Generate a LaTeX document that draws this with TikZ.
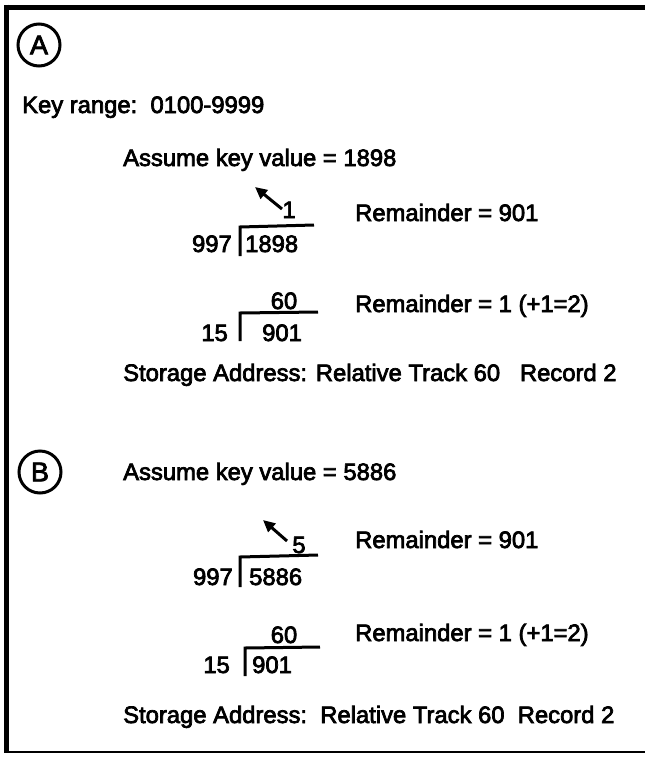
\documentclass[tikz,border=0pt]{standalone}
\usepackage{fontspec}
\setmainfont{Liberation Sans}
\newfontfamily\medfont{Liberation Sans}[FakeBold=3]
\usetikzlibrary{arrows.meta}
\begin{document}
\begin{tikzpicture}[x=1pt,y=-1pt,
  txt/.style={inner sep=0pt,font=\medfont\fontsize{23.8}{28}\selectfont},
  lbl/.style={txt,anchor=base west},
  num/.style={txt,anchor=base},
  frame/.style={line width=5pt},
  thinframe/.style={line width=1.5pt},
  circ/.style={draw,circle,line width=3pt,minimum size=42pt,inner sep=0pt,font=\medfont\fontsize{27}{30}\selectfont},
  divline/.style={line width=3pt},
  ptr/.style={line width=3pt,-{Triangle[length=12pt,width=11pt]}}]
\useasboundingbox (0,0) rectangle (645,758);
% frame
\draw[frame] (4,7) -- (645,7);
\draw[frame] (6.5,4.5) -- (6.5,753);
\draw[thinframe] (4,752) -- (645,752);

% ---- A ----
\node[circ] (cA) at (39,45) {A};
\node[lbl] (keyrange) at (22,113) {Key range:\ \ 0100-9999};
\node[lbl] (assumeA) at (123,166) {Assume key value = 1898};

\node[num,anchor=base east] (dvA1) at (232,252) {997};
\node[lbl] (ddA1) at (245,252) {1898};
\node[num] (qA1) at (289,218) {1};
\coordinate (vA1t) at (240,227);
\coordinate (vA1b) at (240,256);
\coordinate (hA1e) at (314,225);
\draw[divline] (vA1b) -- (vA1t) -- (hA1e);
\coordinate (arA1s) at (282,209);
\coordinate (arA1e) at (255,187);
\draw[ptr] (arA1s) -- (arA1e);
\node[lbl] (remA1) at (355,221) {Remainder = 901};

\node[num] (qA2) at (284,309) {60};
\node[num,anchor=base east] (dvA2) at (228,341) {15};
\node[lbl] (ddA2) at (262,341) {901};
\coordinate (vA2t) at (240,313);
\coordinate (vA2b) at (240,341);
\coordinate (hA2e) at (318,312);
\draw[divline] (vA2b) -- (vA2t) -- (hA2e);
\node[lbl] (remA2) at (355,312) {Remainder = 1 (+1=2)};

\node[lbl] (storA) at (123,381) {Storage Address: Relative Track 60\ \ \ Record 2};

% ---- B ----
\node[circ] (cB) at (40,472) {B};
\node[lbl] (assumeB) at (123,480) {Assume key value = 5886};

\node[num,anchor=base east] (dvB1) at (233,585) {997};
\node[lbl] (ddB1) at (249,585) {5886};
\node[num] (qB1) at (299,553) {5};
\coordinate (vB1t) at (240,557);
\coordinate (vB1b) at (240,587);
\coordinate (hB1e) at (318,555);
\draw[divline] (vB1b) -- (vB1t) -- (hB1e);
\coordinate (arB1s) at (287,541);
\coordinate (arB1e) at (263,520);
\draw[ptr] (arB1s) -- (arB1e);
\node[lbl] (remB1) at (355,548) {Remainder = 901};

\node[num] (qB2) at (284,643) {60};
\node[num,anchor=base east] (dvB2) at (230,673) {15};
\node[lbl] (ddB2) at (252,673) {901};
\coordinate (vB2t) at (245,648);
\coordinate (vB2b) at (245,676);
\coordinate (hB2e) at (320,647);
\draw[divline] (vB2b) -- (vB2t) -- (hB2e);
\node[lbl] (remB2) at (355,641) {Remainder = 1 (+1=2)};

\node[lbl] (storB) at (123,723) {Storage Address:\ \ Relative Track 60\ \ Record 2};
\end{tikzpicture}
\end{document}
